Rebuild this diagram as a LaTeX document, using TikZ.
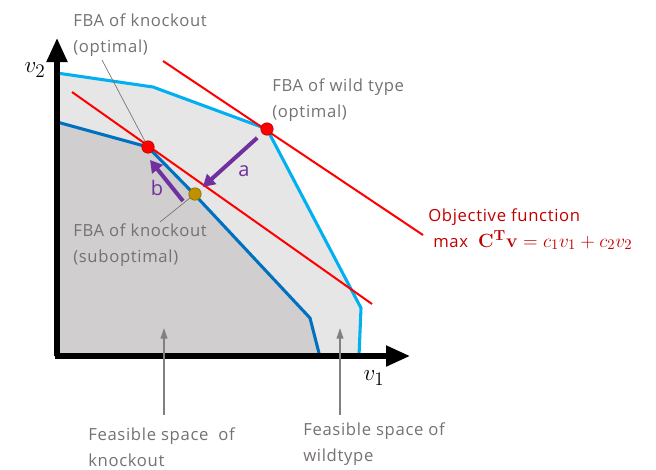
\documentclass[tikz,border=0pt]{standalone}
\usepackage{amsmath}
\usepackage[no-math]{fontspec}
\setmainfont{Open Sans}[LetterSpace=4]
\usetikzlibrary{arrows.meta}

\definecolor{wtblue}{HTML}{00B0F0}
\definecolor{koblue}{HTML}{0070C0}
\definecolor{wtfill}{HTML}{E7E6E6}
\definecolor{kofill}{HTML}{D0CECE}
\definecolor{objred}{HTML}{FF0000}
\definecolor{txtred}{HTML}{C00000}
\definecolor{shift}{HTML}{7030A0}
\definecolor{lblgray}{HTML}{767171}
\definecolor{subgold}{HTML}{BF9000}

\tikzset{
  lbl/.style={text=lblgray, align=left, anchor=base west, inner sep=0pt},
  flux/.style={circle, inner sep=0pt, minimum size=12.5pt*0.75, draw=#1!70!black, fill=#1},
  shiftarrow/.style={draw=shift, line width=3pt, -{Triangle[length=9pt, width=10pt]}},
  leader/.style={draw=lblgray, line width=0.5pt},
  pointer/.style={draw=gray, line width=1.3pt, -{Triangle[length=8pt, width=5pt]}},
  axis/.style={line width=3.8pt, -{Triangle[length=18pt, width=15pt]}}
}

\begin{document}
\begin{tikzpicture}[x=0.75pt, y=-0.75pt, font=\fontsize{12.5}{19.5}\selectfont]
  \useasboundingbox (0,0) rectangle (656,469);

  % feasible spaces
  \filldraw[fill=wtfill, draw=wtblue, line width=2.3pt, line join=round]
    (57,73) -- (153,87) -- (267,129) -- (361,308) -- (359,356) -- (57,356) -- cycle;
  \filldraw[fill=kofill, draw=koblue, line width=2.3pt, line join=round]
    (57,122) -- (148,147) -- (195,195) -- (310,318) -- (320,357) -- (57,357) -- cycle;

  % objective lines
  \draw[objred, line width=1.5pt] (163,61) -- (423,235);
  \draw[objred, line width=1.5pt] (72,92) -- (372,304);

  % axes
  \coordinate (o) at (57,356);
  \coordinate (ytip) at (57,38);
  \coordinate (xtip) at (410,356);
  \draw[axis] (o) -- (ytip);
  \draw[axis] ([xshift=-1.4pt]o) -- (xtip);
  \node (v2) at (35,70) {\fontsize{19}{19}\selectfont$v_2$};
  \node (v1) at (374,378) {\fontsize{19}{19}\selectfont$v_1$};

  % optima
  \node[flux=red] (wt) at (267,129) {};
  \node[flux=red] (ko) at (148,147) {};
  \node[flux=subgold] (sub) at (195,194) {};

  \draw[shiftarrow, shorten <=5pt, shorten >=3pt] (wt) -- (sub);
  \coordinate (b1) at (183,201);
  \coordinate (b2) at (150,160);
  \draw[shiftarrow] (b1) -- (b2);
  \node[text=shift] (a) at (244,171) {\fontsize{15}{15}\selectfont a};
  \node[text=shift] (b) at (157,188) {\fontsize{15}{15}\selectfont b};

  % labels
  \node[lbl] (kolbl) at (73,52) {FBA of knockout\\(optimal)};
  \node[lbl] (wtlbl) at (272,117) {FBA of wild type\\(optimal)};
  \node[lbl] (sublbl) at (73,262) {FBA of knockout\\(suboptimal)};
  \coordinate (kotail) at (102,60);
  \coordinate (subtail) at (160,222);
  \draw[leader] (kotail) -- (ko);
  \draw[leader] (subtail) -- (sub);

  \node[lbl] (fsko) at (88,466) {Feasible space\ \ of\\knockout};
  \node[lbl] (fswt) at (303,461) {Feasible space of\\wildtype};
  \coordinate (koarr1) at (164,415);
  \coordinate (koarr2) at (164,328);
  \coordinate (wtarr1) at (340,415);
  \coordinate (wtarr2) at (340,328);
  \draw[pointer] (koarr1) -- (koarr2);
  \draw[pointer] (wtarr1) -- (wtarr2);

  % objective
  \node[lbl, text=txtred] (obj) at (428,221) {Objective function};
  \node[lbl, text=txtred] (objeq) at (433,247)
    {max\ \ {\fontsize{15}{15}\selectfont$\mathbf{C}^{\mathbf{T}}\mathbf{v}=c_1v_1+c_2v_2$}};
\end{tikzpicture}
\end{document}
